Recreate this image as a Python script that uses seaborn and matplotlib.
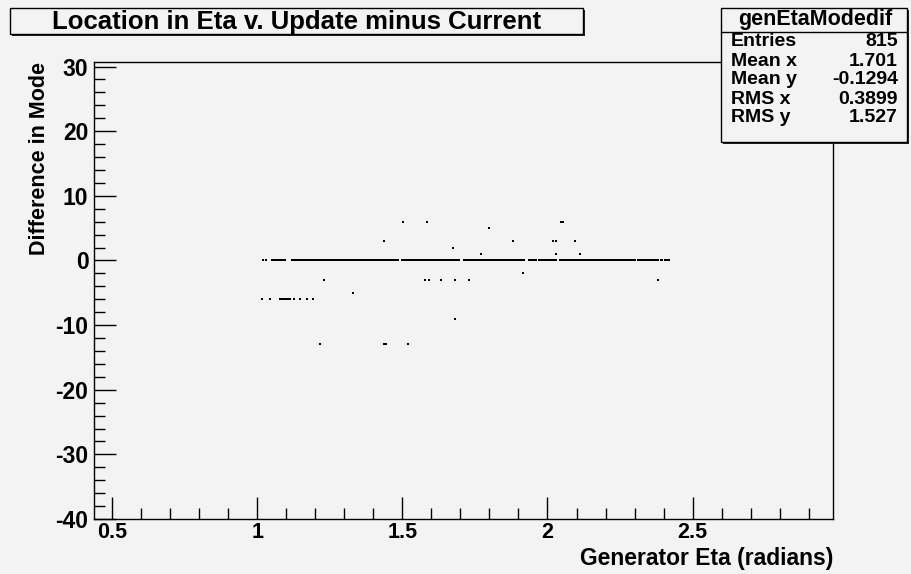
import numpy as np
import pandas as pd
import matplotlib
matplotlib.use("Agg")
import matplotlib.pyplot as plt
from matplotlib.patches import Rectangle
from matplotlib.lines import Line2D
from matplotlib.ticker import MultipleLocator, FixedLocator, FixedFormatter
import seaborn as sns

# Generator eta (in thousandths) of the entries whose mode difference is zero
band_x_milli = [
    1021, 1029, 1052, 1057, 1061, 1066, 1069, 1074, 1078, 1083, 1086, 1091, 1095,
    1120, 1124, 1127, 1132, 1136, 1142, 1145, 1149, 1154, 1158, 1163, 1166, 1170,
    1175, 1179, 1184, 1187, 1191, 1196, 1200, 1205, 1208, 1212, 1217, 1221, 1226,
    1229, 1233, 1238, 1242, 1247, 1250, 1254, 1259, 1263, 1268, 1271, 1275, 1280,
    1284, 1289, 1292, 1296, 1301, 1305, 1310, 1313, 1317, 1322, 1326, 1331, 1334,
    1338, 1343, 1347, 1352, 1355, 1359, 1364, 1368, 1373, 1376, 1380, 1385, 1389,
    1394, 1397, 1401, 1406, 1410, 1415, 1418, 1422, 1427, 1431, 1436, 1439, 1443,
    1448, 1452, 1457, 1460, 1464, 1469, 1473, 1478, 1481, 1485, 1499, 1502, 1506,
    1511, 1515, 1520, 1523, 1527, 1532, 1536, 1541, 1544, 1548, 1553, 1557, 1562,
    1565, 1569, 1574, 1578, 1583, 1586, 1590, 1595, 1599, 1604, 1607, 1611, 1616,
    1620, 1625, 1628, 1632, 1637, 1641, 1646, 1649, 1653, 1658, 1662, 1667, 1670,
    1674, 1679, 1683, 1688, 1692, 1696,
    1713, 1717, 1722, 1725, 1729, 1734, 1738, 1743, 1746, 1750, 1755, 1759, 1764,
    1767, 1771, 1776, 1780, 1785, 1788, 1792, 1797, 1801, 1806, 1809, 1813, 1818,
    1822, 1827, 1830, 1834, 1839, 1843, 1848, 1851, 1855, 1860, 1864, 1869, 1872,
    1876, 1881, 1885, 1890, 1893, 1897, 1902, 1906, 1911, 1914, 1919,
    1936, 1943, 1949, 1957, 1962, 1970, 1976, 1983, 1991, 1997, 2004, 2011, 2017,
    2024, 2030, 2044,
    2050, 2054, 2059, 2062, 2066, 2071, 2075, 2080, 2083, 2087, 2092, 2096, 2101,
    2104, 2108, 2113, 2117, 2122, 2125, 2129, 2134, 2138, 2143, 2146, 2150, 2155,
    2159, 2164, 2167, 2171, 2176, 2180, 2185, 2188, 2192, 2197, 2201, 2206, 2209,
    2213, 2218, 2222, 2227, 2230, 2234, 2239, 2243, 2248, 2251, 2255, 2260, 2264,
    2269, 2272, 2276, 2281, 2285, 2290, 2293, 2297, 2302,
    2311, 2318, 2324, 2333, 2339, 2347, 2352, 2361, 2368, 2374, 2382, 2390, 2396,
    2405, 2411, 2418,
]

# Generator eta (in thousandths) of the entries shifted by -6
minus6_x_milli = [1015, 1044, 1078, 1083, 1088, 1094, 1099, 1105, 1111, 1128,
                  1147, 1170, 1193]

# Isolated entries: generator eta and difference in mode
outlier_x = [1.502, 1.585, 2.046, 2.054, 1.798, 1.438, 1.880, 2.018, 2.031,
             2.094, 1.675, 1.771, 2.031, 2.113, 1.916, 1.231, 1.579, 1.593,
             1.634, 1.680, 1.729, 2.382, 1.329, 1.680, 1.215, 1.436, 1.442,
             1.519]
outlier_y = [6, 6, 6, 6, 5, 3, 3, 3, 3,
             3, 2, 1, 1, 1, -2, -3, -3, -3,
             -3, -3, -3, -3, -5, -9, -13, -13, -13,
             -13]

x_tick_values = [0.5, 1.0, 1.5, 2.0, 2.5]
x_tick_labels = ["0.5", "1", "1.5", "2", "2.5"]
y_tick_values = [-40, -30, -20, -10, 0, 10, 20, 30]
y_tick_labels = ["-40", "-30", "-20", "-10", "0", "10", "20", "30"]

stats_title = "genEtaModedif"
stats_names = ["Entries", "Mean x", "Mean y", "RMS x", "RMS y"]
stats_values = ["815", "1.701", "-0.1294", "0.3899", "1.527"]

plot_title = "Location in Eta v. Update minus Current"
x_title = "Generator Eta (radians)"
y_title = "Difference in Mode"

bg = "#f3f3f3"

sns.set_theme(style="ticks")
plt.rcParams["font.family"] = ["Liberation Sans", "DejaVu Sans"]
plt.rcParams["font.weight"] = "bold"
plt.rcParams["text.color"] = "black"
plt.rcParams["axes.labelcolor"] = "black"
plt.rcParams["xtick.color"] = "black"
plt.rcParams["ytick.color"] = "black"

W, H = 911, 574
fig = plt.figure(figsize=(W / 100, H / 100), dpi=100, facecolor=bg)


def fx(px):
    return px / W


def fy(py):
    return 1 - py / H


ax = fig.add_axes([fx(94), fy(519), fx(833) - fx(94), fy(62) - fy(519)])
ax.set_facecolor(bg)

df = pd.DataFrame({
    "eta": [v / 1000 for v in band_x_milli]
           + [v / 1000 for v in minus6_x_milli] + outlier_x,
    "diff": [0] * len(band_x_milli) + [-6] * len(minus6_x_milli) + outlier_y,
})

sns.scatterplot(data=df, x="eta", y="diff", ax=ax, marker="s", s=2.4,
                color="black", linewidth=0, legend=False)

ax.set_xlim(0.437, 2.984)
ax.set_ylim(-40, 30.7)
ax.set_xlabel("")
ax.set_ylabel("")

ax.xaxis.set_major_locator(FixedLocator(x_tick_values))
ax.xaxis.set_major_formatter(FixedFormatter(x_tick_labels))
ax.xaxis.set_minor_locator(MultipleLocator(0.1))
ax.yaxis.set_major_locator(FixedLocator(y_tick_values))
ax.yaxis.set_major_formatter(FixedFormatter(y_tick_labels))
ax.yaxis.set_minor_locator(MultipleLocator(2))

ax.tick_params(which="both", direction="in", top=False, right=False,
               colors="black", labelcolor="black", width=1.0)
ax.tick_params(axis="y", labelsize=16.5)
ax.tick_params(axis="x", labelsize=15.5)
ax.tick_params(which="major", length=15.8)
ax.tick_params(which="minor", length=7.9)
ax.tick_params(axis="y", which="major", pad=4)
ax.tick_params(axis="x", which="major", pad=2.5)
for lab in ax.get_xticklabels() + ax.get_yticklabels():
    lab.set_fontweight("bold")

for side in ["left", "bottom", "right", "top"]:
    ax.spines[side].set_visible(True)
    ax.spines[side].set_color("black")
    ax.spines[side].set_linewidth(1.0)

# axis titles
fig.text(fx(833), fy(558), x_title, ha="right", va="center",
         fontsize=16.5, fontweight="bold")
fig.text(fx(40), fy(62), y_title, ha="center", va="top", rotation=90,
         fontsize=15.5, fontweight="bold")


def framed_box(x0, y0, x1, y1):
    shadow = Rectangle((fx(x0 + 2), fy(y1 + 2)), fx(x1) - fx(x0),
                       fy(y0) - fy(y1), transform=fig.transFigure,
                       facecolor="#222222", edgecolor="none", zorder=4)
    box = Rectangle((fx(x0), fy(y1)), fx(x1) - fx(x0), fy(y0) - fy(y1),
                    transform=fig.transFigure, facecolor=bg,
                    edgecolor="black", linewidth=1.0, zorder=5)
    fig.patches.extend([shadow, box])


# title box
framed_box(10, 8, 583, 34)
fig.text(fx(297), fy(22), plot_title, ha="center", va="center",
         fontsize=18.5, fontweight="bold", zorder=6)

# statistics box
framed_box(721, 8, 907, 142)
fig.lines.append(Line2D([fx(721), fx(907)], [fy(32), fy(32)],
                        transform=fig.transFigure, color="black",
                        linewidth=1.0, zorder=6))
fig.text(fx(815), fy(19.5), stats_title, ha="center", va="center",
         fontsize=15.5, fontweight="bold", zorder=6)
row_y = [42, 61, 80, 99, 118]
for name, value, ry in zip(stats_names, stats_values, row_y):
    fig.text(fx(731), fy(ry), name, ha="left", va="center",
             fontsize=14, fontweight="bold", zorder=6)
    fig.text(fx(898), fy(ry), value, ha="right", va="center",
             fontsize=14, fontweight="bold", zorder=6)

fig.savefig("out.png", dpi=100, facecolor=bg)
